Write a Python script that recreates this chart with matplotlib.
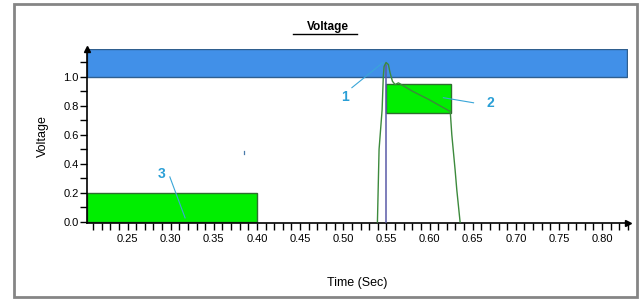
import matplotlib
matplotlib.use("Agg")
import matplotlib.pyplot as plt
from matplotlib.patches import Rectangle
from matplotlib.ticker import MultipleLocator

plt.rcParams['font.family'] = ['Liberation Sans', 'DejaVu Sans']

# ---- data ----
band_low, band_high = 1.0, 1.19            # blue limit band
band_x = [0.203, 0.829]
rect2_x = [0.55, 0.625]; rect2_y = [0.75, 0.95]
rect3_x = [0.203, 0.40]; rect3_y = [0.0, 0.20]
curve_t = [0.5396, 0.5415, 0.545, 0.5464, 0.5473, 0.5496, 0.5523, 0.5543, 0.557, 0.5601,
           0.5639, 0.58, 0.60, 0.624, 0.6258, 0.6296, 0.6316, 0.6354]
curve_v = [0.0, 0.5, 0.77, 1.0, 1.07, 1.097, 1.083, 1.025, 0.968, 0.945,
           0.957, 0.90, 0.84, 0.76, 0.60, 0.36, 0.22, 0.0]
marker_t = 0.55; marker_v = [0.0, 1.08]
xticks = [0.25, 0.30, 0.35, 0.40, 0.45, 0.50, 0.55, 0.60, 0.65, 0.70, 0.75, 0.80]
xticklabels = ["0.25", "0.30", "0.35", "0.40", "0.45", "0.50", "0.55", "0.60",
               "0.65", "0.70", "0.75", "0.80"]
yticks = [0.0, 0.2, 0.4, 0.6, 0.8, 1.0]
yticklabels = ["0.0", "0.2", "0.4", "0.6", "0.8", "1.0"]
callouts = [("1", (0.502, 0.862), (0.510, 0.924), (0.546, 1.097)),
            ("2", (0.670, 0.82), (0.651, 0.82), (0.616, 0.855)),
            ("3", (0.290, 0.33), (0.299, 0.31), (0.3167, 0.028))]

W, H = 641, 299
fig = plt.figure(figsize=(W / 100, H / 100), dpi=100)
fig.patch.set_facecolor('white')

# outer frame
fig.add_artist(Rectangle((14 / W, 2 / H), 623 / W, 293 / H, transform=fig.transFigure,
                         fill=False, edgecolor='#858585', linewidth=2))

ax = fig.add_axes([87 / W, (H - 223) / H, 541 / W, 174 / H])
ax.set_xlim(0.203, 0.83)
ax.set_ylim(-0.007, 1.19)

ax.add_patch(Rectangle((band_x[0], band_low), band_x[1] - band_x[0], band_high - band_low,
                       facecolor='#4190E8', edgecolor='#2F5F8F', linewidth=1, zorder=1))
ax.add_patch(Rectangle((rect3_x[0], rect3_y[0]), rect3_x[1] - rect3_x[0], rect3_y[1] - rect3_y[0],
                       facecolor='#00EE00', edgecolor='#2E6E2E', linewidth=1, zorder=2))
ax.add_patch(Rectangle((rect2_x[0], rect2_y[0]), rect2_x[1] - rect2_x[0], rect2_y[1] - rect2_y[0],
                       facecolor='#00EE00', edgecolor='#2E6E2E', linewidth=1, zorder=2))
ax.plot([marker_t, marker_t], marker_v, color='#5A5AA8', lw=1.1, zorder=3)
ax.plot(curve_t, curve_v, color='#3C8A3C', lw=1.0, zorder=4)
ax.plot([0.385, 0.385], [0.468, 0.485], color='#4A7AAA', lw=0.9, zorder=4)

for label, txt, p0, p1 in callouts:
    ax.plot([p0[0], p1[0]], [p0[1], p1[1]], color='#3AA6D8', lw=0.8, zorder=5)
    ax.text(txt[0], txt[1], label, color='#2A9FD6', fontsize=10, fontweight='bold',
            ha='center', va='center', zorder=5)

for s in ['top', 'right']:
    ax.spines[s].set_visible(False)
ax.spines['left'].set_linewidth(1.2)
ax.spines['bottom'].set_linewidth(1.2)
ax.plot(1, -0.007, '>', color='black', ms=5, transform=ax.get_yaxis_transform(), clip_on=False)
ax.plot(0.203, 1.0, '^', color='black', ms=4, transform=ax.get_xaxis_transform(), clip_on=False)

ax.set_xticks(xticks)
ax.set_xticklabels(xticklabels, fontsize=8)
ax.xaxis.set_minor_locator(MultipleLocator(0.01))
ax.set_yticks(yticks)
ax.set_yticklabels(yticklabels, fontsize=8)
ax.yaxis.set_minor_locator(MultipleLocator(0.1))
ax.tick_params(axis='both', which='both', direction='out', length=5, width=1, colors='black')
ax.tick_params(axis='x', pad=3)
ax.tick_params(axis='y', pad=1)

ax.set_xlabel("Time (Sec)", fontsize=9, labelpad=24)
ax.set_ylabel("Voltage", fontsize=9, labelpad=10)

fig.text(328 / W, 1 - 27 / H, "Voltage", fontsize=8.5, fontweight='bold', ha='center', va='center')
fig.add_artist(plt.Line2D([293 / W, 357 / W], [1 - 34 / H, 1 - 34 / H], transform=fig.transFigure,
                          color='black', lw=1))

fig.savefig("out.png", dpi=100)
